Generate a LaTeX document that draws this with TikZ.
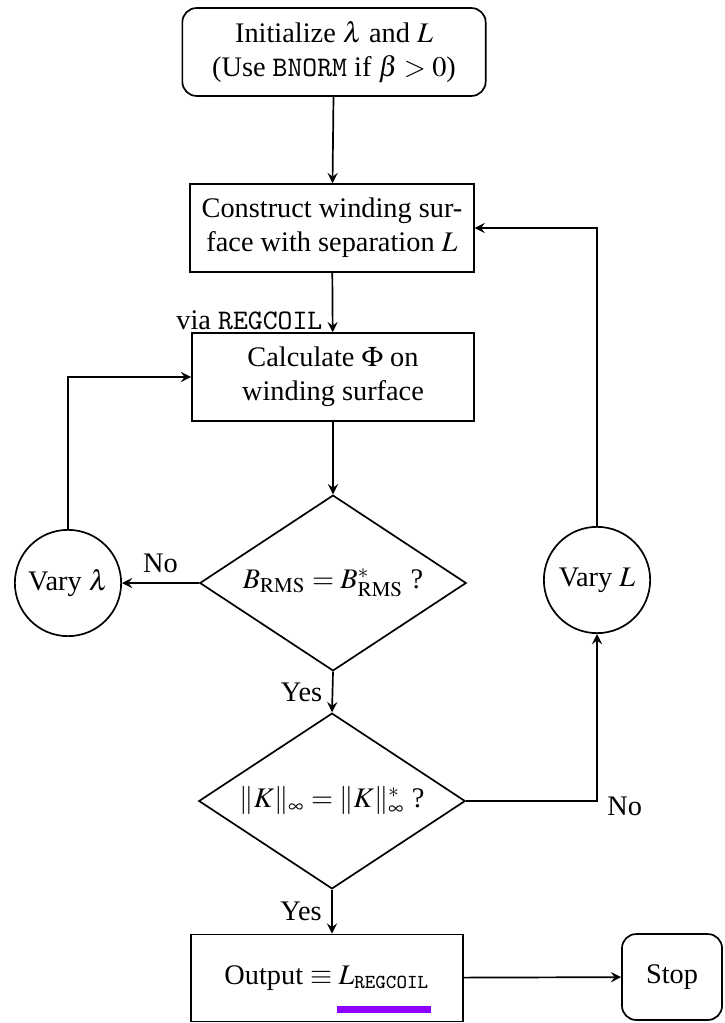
\documentclass[tikz,border=0pt]{standalone}
\usepackage{mathptmx}
\usepackage[no-math]{fontspec}
\setmainfont{Liberation Serif}
\usetikzlibrary{shapes.geometric}
\definecolor{markviolet}{RGB}{144,0,255}
\tikzset{
  startstop/.style={draw,rectangle,rounded corners=5pt,align=center,inner sep=2pt},
  process/.style={draw,rectangle,align=center,inner sep=2pt,minimum height=31pt},
  decision/.style={draw,diamond,aspect=1.5,inner sep=0pt,minimum width=94pt,minimum height=62pt},
  vary/.style={draw,circle,inner sep=0pt,minimum size=37.5pt},
}
\begin{document}
\begin{tikzpicture}[>=stealth,semithick,x=0.3528pt,y=-0.3528pt]
    \useasboundingbox (0,0) rectangle (724,1023);
    % 框
    \node[startstop,minimum width=107pt,minimum height=31pt] (init) at (334,52)
        {Initialize $\lambda$ and $L$\\(Use \texttt{BNORM} if $\beta>0$)};
    \node[process,minimum width=100pt] (build) at (332,228)
        {Construct winding sur-\\face with separation $L$};
    \node[process,minimum width=99.5pt] (calc) at (333,377)
        {Calculate $\Phi$ on\\winding surface};
    % 判断
    \node[decision] (test1) at (333,583) {$B_{\mathrm{RMS}}=B^*_{\mathrm{RMS}}$ ?};
    \node[decision] (test2) at (332,801) {$\|K\|_\infty=\|K\|^*_\infty$\ ?};
    % 圆
    \node[vary] (varylam) at (68,583) {Vary $\lambda$};
    \node[vary] (varyL) at (597,580) {Vary $L$};
    % 输出
    \node[process,minimum width=96pt,minimum height=30.7pt] (out) at (327,978)
        {Output $\equiv L_{\mathtt{REGCOIL}}$};
    \node[startstop,minimum width=35.3pt,minimum height=30.3pt] (stop) at (672,977) {Stop};
    % 连线
    \draw[->] (init) -- (build);
    \draw[->] (build) -- (calc) node[pos=0.8,left] {via \texttt{REGCOIL}};
    \draw[->] (calc) -- (test1);
    \draw[->] (test1.west) -- (varylam) node[midway,above] {No};
    \draw[->] (varylam.north) |- (calc.west);
    \draw[->] (test1.south) -- (test2.north) node[midway,left] {Yes};
    \draw[->] (test2.east) -| (varyL.south) node[pos=0.5,right,yshift=-2pt] {No};
    \draw[->] (varyL.north) |- (build.east);
    \draw[->] (test2.south) -- (test2.south |- out.north) node[midway,left] {Yes};
    \draw[->] (out) -- (stop);
    % 紫色下划线
    \draw[markviolet,line width=2.5pt] (337,1009.5) -- (431,1009.5);
\end{tikzpicture}
\end{document}
